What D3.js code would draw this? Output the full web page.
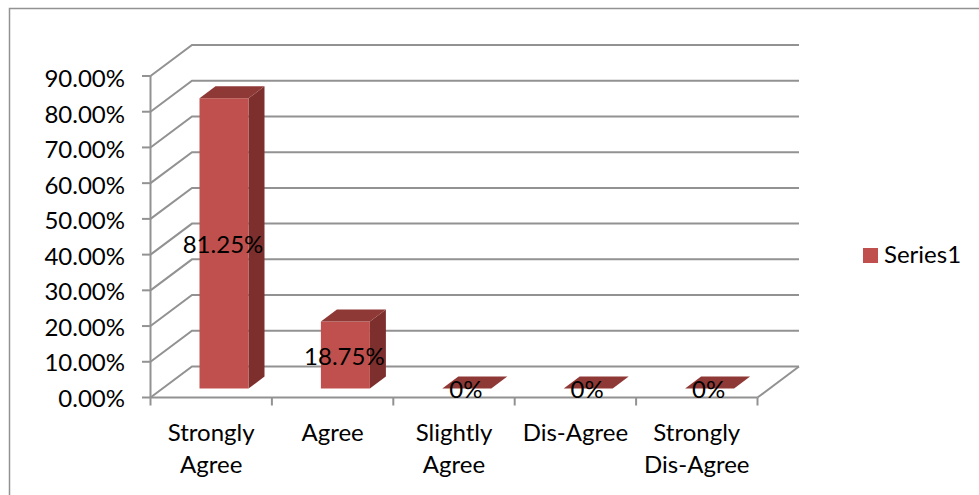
<!DOCTYPE html>
<html><head><meta charset="utf-8">
<script src="https://cdn.jsdelivr.net/npm/d3@7"></script>
<style>html,body{margin:0;padding:0;background:#fff}svg{display:block}text{font-family:Lato,"Open Sans",sans-serif;fill:#000}</style>
</head><body><svg id="c" width="979" height="495"></svg>
<script>
const categories=[["Strongly","Agree"],["Agree"],["Slightly","Agree"],["Dis-Agree"],["Strongly","Dis-Agree"]];
const values=[81.25,18.75,0,0,0];
const valueLabels=["81.25%","18.75%","0%","0%","0%"];
const yTicks=[0,10,20,30,40,50,60,70,80,90];
const seriesName="Series1";

const svg=d3.select("#c");
const x=d3.scaleBand().domain(d3.range(categories.length)).range([150.5,757.5]).padding(0);
const y=d3.scaleLinear().domain([0,90]).range([397.5,76]);
const yLabel=d3.scaleLinear().domain([0,90]).range([406.7,87]);
const wallDx=41.5,wallDy=-31;
const barW=49,barDx=16,barDy=-12,barLift=9,barShift=12.8;
const grid="#929292";
const fs=24;

svg.append("rect").attr("x",9.5).attr("y",8.5).attr("width",975).attr("height",490).attr("fill","#fff").attr("stroke","#929292").attr("stroke-width",1.5);

const g=svg.append("g");
yTicks.forEach(t=>{
  const yy=y(t);
  g.append("path").attr("d",`M150.5,${yy}L${150.5+wallDx},${yy+wallDy}H${757.5+wallDx}`).attr("fill","none").attr("stroke",grid).attr("stroke-width",2);
});
g.append("path").attr("d",`M757.5,${y(0)}L${757.5+wallDx},${y(0)+wallDy}`).attr("fill","none").attr("stroke",grid).attr("stroke-width",2);
g.append("line").attr("x1",150.5).attr("x2",757.5).attr("y1",y(0)).attr("y2",y(0)).attr("stroke",grid).attr("stroke-width",2);
g.append("line").attr("x1",150.5).attr("x2",150.5).attr("y1",y(90)).attr("y2",y(0)).attr("stroke",grid).attr("stroke-width",2);
yTicks.forEach(t=>g.append("line").attr("x1",142).attr("x2",150.5).attr("y1",y(t)).attr("y2",y(t)).attr("stroke",grid).attr("stroke-width",2));
d3.range(categories.length+1).forEach(i=>{
  const xx=i<categories.length?x(i):757.5;
  g.append("line").attr("x1",xx).attr("x2",xx).attr("y1",y(0)).attr("y2",y(0)+8).attr("stroke",grid).attr("stroke-width",2);
});

const scale=y(0)-y(1);
values.forEach((v,i)=>{
  const left=x(i)+x.bandwidth()/2-barW/2+barShift;
  const bottom=y(0)-barLift, top=bottom-v*scale, right=left+barW;
  const p=svg.append("g");
  if(v>0){
    p.append("path").attr("d",`M${right},${bottom}L${right+barDx},${bottom+barDy}V${top+barDy}L${right},${top}Z`).attr("fill","#7c2f2d");
    p.append("rect").attr("x",left).attr("y",top).attr("width",barW).attr("height",bottom-top).attr("fill","#c0504d");
  }
  p.append("path").attr("d",`M${left},${top}L${left+barDx},${top+barDy}H${right+barDx}L${right},${top}Z`).attr("fill","#8f3937");
});

yTicks.forEach(t=>svg.append("text").attr("x",125).attr("y",yLabel(t)).attr("text-anchor","end").attr("font-size",fs).text(t.toFixed(2)+"%"));

values.forEach((v,i)=>{
  const cx=x(i)+x.bandwidth()/2;
  categories[i].forEach((line,k)=>svg.append("text").attr("x",cx).attr("y",441+k*32).attr("text-anchor","middle").attr("font-size",fs).text(line));
  const bottom=y(0)-barLift, top=bottom-v*scale;
  svg.append("text").attr("x",cx+barShift-1).attr("y",(top+bottom)/2+9.5).attr("text-anchor","middle").attr("font-size",fs).text(valueLabels[i]);
});

svg.append("rect").attr("x",863).attr("y",248).attr("width",15).attr("height",15).attr("fill","#c0504d");
svg.append("text").attr("x",884).attr("y",263).attr("font-size",fs).text(seriesName);
</script></body></html>
